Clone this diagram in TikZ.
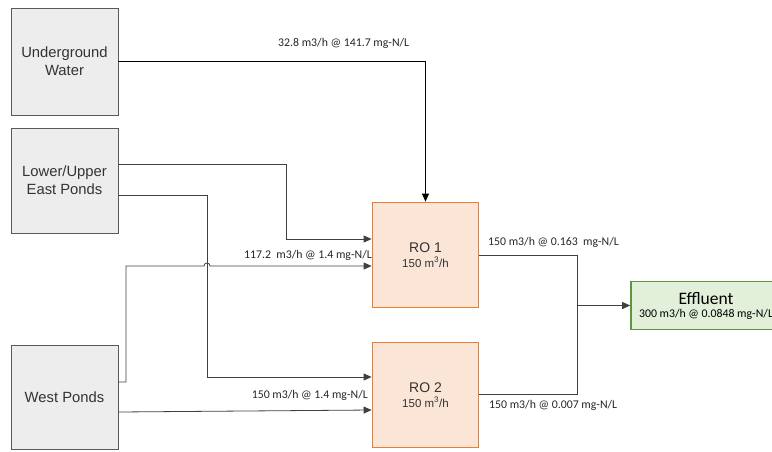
\documentclass[tikz,border=0pt]{standalone}
\usepackage{fontspec}
\setmainfont{Liberation Sans}
\newfontfamily\calib{Carlito}
\usetikzlibrary{arrows.meta}
\definecolor{srcfill}{HTML}{EDEDED}
\definecolor{srcdraw}{HTML}{595959}
\definecolor{rofill}{HTML}{FBE5D6}
\definecolor{rodraw}{HTML}{ED7D31}
\definecolor{efffill}{HTML}{E2F0D9}
\definecolor{effdraw}{HTML}{5E9444}
\definecolor{linec}{HTML}{404040}
\tikzset{
  srcbox/.style={draw=srcdraw, fill=srcfill, line width=0.8pt, minimum width=107pt, inner sep=0pt, align=center, font=\fontsize{14.8}{18}\selectfont, text=black!80},
  robox/.style={draw=rodraw, fill=rofill, line width=1.8pt, minimum width=106pt, minimum height=105pt, inner sep=0pt, align=center, text=black!80},
  effbox/.style={draw=effdraw, fill=efffill, line width=1.6pt, minimum width=150pt, minimum height=48pt, inner sep=0pt, align=center},
  conn/.style={draw=linec, line width=0.8pt},
  arr/.style={conn, -{Triangle[length=8pt,width=7pt]}},
  flowlbl/.style={font=\calib\fontsize{11.8}{13}\selectfont, inner sep=0pt, text=black!85}
}
\begin{document}
\begin{tikzpicture}[x=1pt,y=-1pt]
\useasboundingbox (0,0) rectangle (772,451);
\clip (0,0) rectangle (772,451);
% source boxes
\node[srcbox, minimum height=107pt] (uw) at (64.5,61.5) {Underground\\Water};
\node[srcbox, minimum height=105pt] (lep) at (64.5,180.5) {Lower/Upper\\East Ponds};
\node[srcbox, minimum height=104pt] (wp) at (64.5,397) {West Ponds};
% RO boxes
\node[robox] (ro1) at (425.5,255) {\fontsize{14}{17}\selectfont RO 1\\[3pt]\fontsize{11.5}{14}\selectfont 150 m\textsuperscript{3}/h};
\node[robox] (ro2) at (425.5,395) {\fontsize{14}{17}\selectfont RO 2\\[3pt]\fontsize{11.5}{14}\selectfont 150 m\textsuperscript{3}/h};
% effluent
\node[effbox] (eff) at (706,305.5) {\calib\fontsize{17.5}{19}\selectfont Effluent\\[1pt]\calib\fontsize{11.8}{13}\selectfont 300 m3/h @ 0.0848 mg-N/L};
% connectors
\draw[arr, draw=black] (uw.east) -| (ro1.north);
\draw[arr] (lep.east |- 0,164) -- (286,164) -- (286,239) -- (ro1.west |- 0,239);
\draw[arr] (lep.east |- 0,195) -- (207,195) -- (207,377) -- (ro2.west |- 0,377);
\draw[arr] (wp.east |- 0,382) -- (126,382) -- (126,266) -- (204,266)
   .. controls (204,262) and (210,262) .. (210,266) -- (ro1.west |- 0,266);
\draw[arr] (wp.east |- 0,412) -- (ro2.west |- 0,410);
\coordinate (join) at (577,305.5);
\draw[conn] (ro1.east) -- (577,255) -- (577,394) -- (ro2.east |- 0,394);
\draw[arr] (join) -- (eff.west);
% labels
\node[flowlbl, anchor=west] (l1) at (278,43) {32.8 m3/h @ 141.7 mg-N/L};
\node[flowlbl, anchor=east] (l2) at (372,255) {117.2\ \ m3/h @ 1.4 mg-N/L};
\node[flowlbl, anchor=east] (l3) at (368,395) {150 m3/h @ 1.4 mg-N/L};
\node[flowlbl, anchor=west] (l4) at (488,242) {150 m3/h @ 0.163\ \ mg-N/L};
\node[flowlbl, anchor=west] (l5) at (489,405) {150 m3/h @ 0.007 mg-N/L};
\end{tikzpicture}
\end{document}
